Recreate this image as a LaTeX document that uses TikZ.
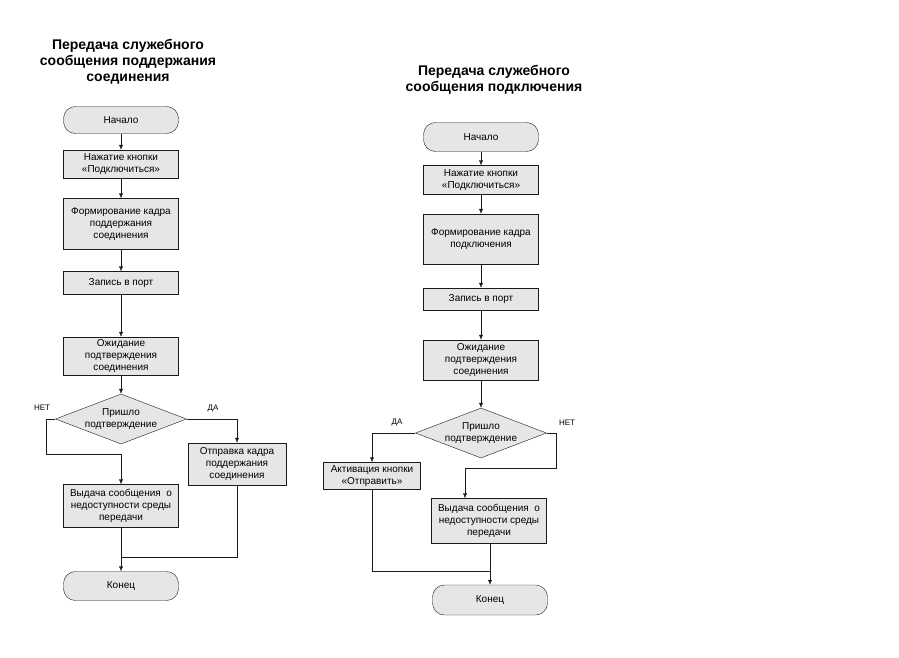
\documentclass[tikz,border=0pt]{standalone}
\usepackage{fontspec}
\setmainfont{Liberation Sans}
\usetikzlibrary{positioning, shapes.geometric, arrows.meta}
\definecolor{boxfill}{HTML}{E6E6E6}
\definecolor{boxline}{HTML}{1A1A1A}

\begin{document}
\begin{tikzpicture}[x=1pt, y=-1pt, font=\fontsize{10}{12}\selectfont,
    term/.style={draw=boxline, fill=boxfill, rounded corners=12pt, minimum width=115pt,
                 minimum height=27pt, align=center, inner sep=2pt},
    proc/.style={draw=boxline, fill=boxfill, minimum width=115pt, align=center, inner sep=2pt},
    decision/.style={draw=boxline, fill=boxfill, diamond, aspect=2.6, minimum width=131pt,
                     minimum height=50pt, inner sep=0pt, align=center},
    lbl/.style={font=\fontsize{8}{10}\selectfont},
    ttl/.style={font=\fontsize{14}{16}\selectfont\bfseries, align=center},
    arr/.style={draw=boxline, -{Latex[length=5pt,width=4pt]}}]
    \useasboundingbox (0,0) rectangle (899,657);

    % keep-alive chart
    \node[ttl] (title1) at (128,62) {Передача служебного\\сообщения поддержания\\соединения};
    \node[term] (start1) at (121,120) {Начало};
    \node[proc, minimum height=28pt] (press1) at (121,164) {Нажатие кнопки\\«Подключиться»};
    \node[proc, minimum height=51pt] (form1) at (121,224) {Формирование кадра\\поддержания\\соединения};
    \node[proc, minimum height=23pt] (port1) at (121,283) {Запись в порт};
    \node[proc, minimum height=38pt] (wait1) at (121,356) {Ожидание\\подтверждения\\соединения};
    \node[decision] (dec1) at (121,419) {Пришло\\подтверждение};
    \node[proc, minimum width=98pt, minimum height=42pt] (send1) at (237,464) {Отправка кадра\\поддержания\\соединения};
    \node[proc, minimum height=43pt] (out1) at (121,506) {Выдача сообщения\ \ о\\недоступности среды\\передачи};
    \node[term, minimum height=29pt] (end1) at (121,586) {Конец};
    \node[lbl] (no1) at (42,408) {НЕТ};
    \node[lbl] (yes1) at (213,409) {ДА};
    \coordinate (n1) at (46,454);
    \coordinate (j1) at (121,557);

    \draw[arr] (start1) -- (press1);
    \draw[arr] (press1) -- (form1);
    \draw[arr] (form1) -- (port1);
    \draw[arr] (port1) -- (wait1);
    \draw[arr] (wait1) -- (dec1);
    \draw[arr] (dec1.west) -| (n1) -| (out1.north);
    \draw[arr] (dec1.east) -| (send1.north);
    \draw[arr] (out1) -- (end1);
    \draw[boxline] (send1.south) |- (j1);

    % connect chart
    \node[ttl] (title2) at (494,80) {Передача служебного\\сообщения подключения};
    \node[term, minimum height=29pt] (start2) at (481,137) {Начало};
    \node[proc, minimum height=29pt] (press2) at (481,180) {Нажатие кнопки\\«Подключиться»};
    \node[proc, minimum height=50pt] (form2) at (481,239) {Формирование кадра\\подключения};
    \node[proc, minimum height=22pt] (port2) at (481,299) {Запись в порт};
    \node[proc, minimum height=40pt] (wait2) at (481,360) {Ожидание\\подтверждения\\соединения};
    \node[decision] (dec2) at (481,433) {Пришло\\подтверждение};
    \node[proc, minimum width=97pt, minimum height=27pt] (act2) at (372,476) {Активация кнопки\\«Отправить»};
    \node[proc, minimum height=45pt] (out2) at (489,521) {Выдача сообщения\ \ о\\недоступности среды\\передачи};
    \node[term, minimum height=30pt] (end2) at (490,600) {Конец};
    \node[lbl] (yes2) at (397,423) {ДА};
    \node[lbl] (no2) at (567,423) {НЕТ};
    \coordinate (n2) at (556,468);
    \coordinate (j2) at (490,571);

    \draw[arr] (start2) -- (press2);
    \draw[arr] (press2) -- (form2);
    \draw[arr] (form2) -- (port2);
    \draw[arr] (port2) -- (wait2);
    \draw[arr] (wait2) -- (dec2);
    \draw[arr] (dec2.west) -| (act2.north);
    \draw[arr] (dec2.east) -| (n2) -| ([xshift=-24pt]out2.north);
    \draw[arr] ([xshift=1pt]out2.south) -- (end2);
    \draw[boxline] (act2.south) |- (j2);
\end{tikzpicture}
\end{document}
